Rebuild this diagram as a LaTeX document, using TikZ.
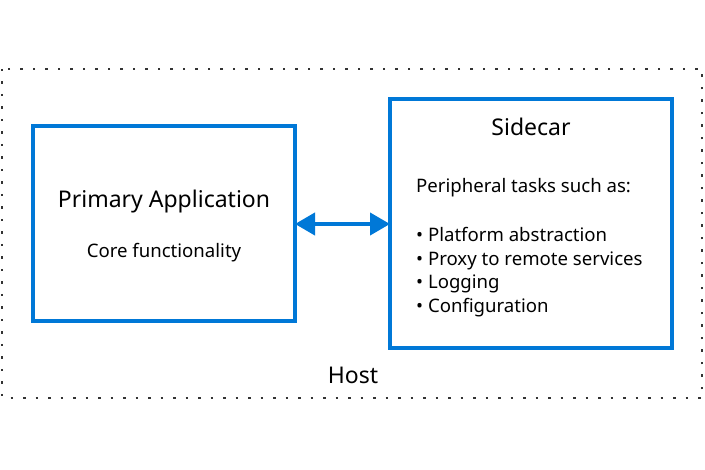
\documentclass[tikz,border=0pt]{standalone}
\usepackage{fontspec}
\setmainfont{Noto Sans}
\usetikzlibrary{arrows.meta}
\definecolor{azblue}{HTML}{0078D7}
\tikzset{
  hostbox/.style={draw=black!80, line width=2.5pt, dash pattern=on 2.5pt off 10pt},
  appbox/.style={draw=azblue, line width=4pt, fill=white},
  title/.style={inner sep=0pt, font=\fontsize{23}{27}\selectfont},
  txt/.style={inner sep=0pt, font=\fontsize{18.6}{22}\selectfont},
}
\begin{document}
\begin{tikzpicture}[x=1pt,y=-1pt]
\useasboundingbox (0,0) rectangle (705,470);
\draw[hostbox] (2,69) rectangle (702,398);
\node[title] (host) at (353,375){Host};
\draw[appbox] (33,126) rectangle (295,321);
\coordinate (prim) at (295,224);
\node[title] (primtitle) at (164,202){Primary Application};
\node[txt] (primcore) at (164,253){Core functionality};
\draw[appbox] (390,99) rectangle (672,348);
\coordinate (side) at (390,224);
\node[title] (sidetitle) at (531,127){Sidecar};
\node[txt, anchor=west] (periph) at (416,188){Peripheral tasks such as:};
\node[txt, anchor=north west, align=left, font=\fontsize{18.6}{23.7}\selectfont] (tasks) at (416,227){%
\textbullet{} Platform abstraction\\
\textbullet{} Proxy to remote services\\
\textbullet{} Logging\\
\textbullet{} Configuration};
\draw[azblue, line width=4pt, {Triangle[length=20pt,width=22pt]}-{Triangle[length=20pt,width=22pt]}] (prim) -- (side);
\end{tikzpicture}
\end{document}
